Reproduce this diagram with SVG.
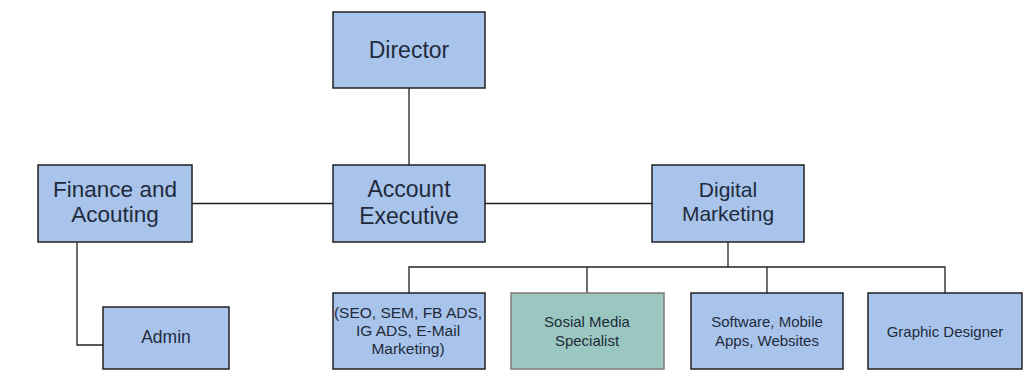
<svg xmlns="http://www.w3.org/2000/svg" width="1033" height="377" viewBox="0 0 1033 377">
<style>
.box{fill:#a9c4eb;stroke:#222;stroke-width:1.5}
.green{fill:#9ac7bf;stroke:#857a76;stroke-width:1.5}
.big{font-family:"Liberation Sans",Arial,sans-serif;font-size:21px;fill:#1f2b3c;text-anchor:middle}
.small{font-family:"Liberation Sans",Arial,sans-serif;font-size:15px;fill:#1f2b3c;text-anchor:middle}
.conn{fill:none;stroke:#222;stroke-width:1.3}
</style>
<rect width="1033" height="377" fill="#ffffff"/>
<g id="connectors">
<path class="conn" d="M409 88V165"/>
<path class="conn" d="M192 203.5H333"/>
<path class="conn" d="M485 203.5H652"/>
<path class="conn" d="M77 242V345H103"/>
<path class="conn" d="M728 242V267"/>
<path class="conn" d="M409 293V267H945V293"/>
<path class="conn" d="M587 267V293"/>
<path class="conn" d="M767 267V293"/>
</g>
<g id="director">
<rect class="box" x="333" y="12" width="152" height="76"/>
<text class="big" x="409" y="58" style="font-size:23px">Director</text>
</g>
<g id="finance">
<rect class="box" x="38" y="165" width="154" height="77"/>
<text class="big" x="115" y="197" style="font-size:22.5px">Finance and</text>
<text class="big" x="115" y="222" style="font-size:22.5px">Acouting</text>
</g>
<g id="account">
<rect class="box" x="333" y="165" width="152" height="77"/>
<text class="big" x="409" y="197" style="font-size:23px">Account</text>
<text class="big" x="409" y="224" style="font-size:23px">Executive</text>
</g>
<g id="digital">
<rect class="box" x="652" y="165" width="152" height="77"/>
<text class="big" x="728" y="197">Digital</text>
<text class="big" x="728" y="221">Marketing</text>
</g>
<g id="admin">
<rect class="box" x="103" y="307" width="126" height="62"/>
<text class="small" x="166" y="343" style="font-size:17.5px">Admin</text>
</g>
<g id="seo">
<rect class="box" x="333" y="293" width="152" height="76"/>
<text class="small" x="408" y="318" style="font-size:15.5px">(SEO, SEM, FB ADS,</text>
<text class="small" x="408" y="336" style="font-size:15.5px">IG ADS, E-Mail</text>
<text class="small" x="408" y="354" style="font-size:15.5px">Marketing)</text>
</g>
<g id="social">
<rect class="green" x="511" y="293" width="153" height="76"/>
<text class="small" x="587" y="327">Sosial Media</text>
<text class="small" x="587" y="346">Specialist</text>
</g>
<g id="software">
<rect class="box" x="691" y="293" width="152" height="76"/>
<text class="small" x="767" y="327">Software, Mobile</text>
<text class="small" x="767" y="346">Apps, Websites</text>
</g>
<g id="graphic">
<rect class="box" x="868" y="293" width="154" height="76"/>
<text class="small" x="945" y="337">Graphic Designer</text>
</g>
</svg>
